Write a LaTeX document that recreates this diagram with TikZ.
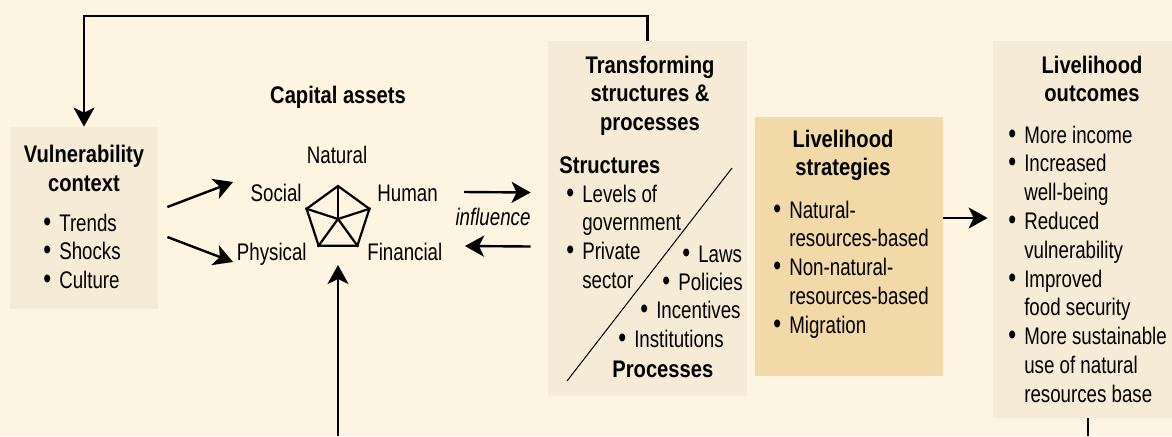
\documentclass[tikz,border=0pt]{standalone}
\usepackage{fontspec}
\setmainfont{Liberation Sans}[FakeStretch=0.78, BoldFeatures={FakeStretch=0.84}]
\usepackage{xcolor}
\definecolor{paper}{HTML}{FDF5E1}
\definecolor{panel}{HTML}{F6EBD6}
\definecolor{stratfill}{HTML}{F2D9A8}
\usetikzlibrary{shapes.geometric, arrows.meta, positioning, calc}

\newcommand{\bulitem}{\scalebox{1.2}{\textbullet}\hspace{4pt}}
\newcommand{\bulpad}{\hphantom{\scalebox{1.2}{\textbullet}\hspace{4pt}}}

\begin{document}
\begin{tikzpicture}[x=0.5pt, y=-0.5pt,
  every node/.style={font=\fontsize{12}{14.4}\selectfont, inner sep=0pt},
  panelbox/.style={fill=panel, draw=none},
  boxtitle/.style={font=\fontsize{12}{14.4}\selectfont\bfseries, align=center, anchor=base},
  itemlist/.style={align=left, anchor=base west},
  flow/.style={line width=1.2pt, -{Stealth[length=9.5pt, width=10.5pt, inset=2.5pt]}}]

  \fill[paper] (0,0) rectangle (1172,436);
  \useasboundingbox (0,0) rectangle (1172,436);

  % panels
  \node[panelbox, minimum width=74pt, minimum height=91pt] (vuln) at (84,218) {};
  \node[panelbox, minimum width=99.5pt, minimum height=177.5pt] (trans) at (647.5,218.5) {};
  \node[fill=stratfill, minimum width=94pt, minimum height=129.5pt] (strat) at (849,246.5) {};
  \node[panelbox, minimum width=95pt, minimum height=188.5pt] (outc) at (1088,229.5) {};

  % vulnerability context (multi-line nodes sit on their last baseline)
  \node[boxtitle] (vulntitle) at (84,191) {Vulnerability\\context};
  \node[itemlist] (vulnlist) at (43,288.6) {\bulitem Trends\\\bulitem Shocks\\\bulitem Culture};

  % capital assets
  \node[boxtitle] (captitle) at (338,103) {Capital assets};
  \node[regular polygon, regular polygon sides=5, minimum size=33pt,
        draw, line width=1.1pt] (pent) at (338,219) {};
  \foreach \c in {1,...,5}
    \draw[line width=1.1pt] (pent.center) -- (pent.corner \c);
  \node[anchor=base] (natural) at (337,163) {Natural};
  \node[anchor=base east] (social) at (302,201) {Social};
  \node[anchor=base west] (human) at (377,201) {Human};
  \node[anchor=base east] (physical) at (307,260) {Physical};
  \node[anchor=base west] (financial) at (367,260) {Financial};

  \draw[flow] ([shift={(4.5pt,5.5pt)}]vuln.east) -- ([shift={(-52.5pt,18.5pt)}]pent.center);
  \draw[flow] ([shift={(4.5pt,-9.5pt)}]vuln.east) -- ([shift={(-52.5pt,-21.5pt)}]pent.center);

  % influence
  \node[anchor=base, font=\fontsize{12}{14.4}\selectfont\itshape] (infl) at (493,225) {influence};
  \draw[flow] ([shift={(63pt,13.5pt)}]pent.center) -- ([shift={(-8.5pt,13pt)}]trans.west);
  \draw[flow] ([shift={(-8.5pt,-14pt)}]trans.west) -- ([shift={(63.5pt,-13.5pt)}]pent.center);

  % transforming structures & processes
  \node[boxtitle] (transtitle) at (650,130.6) {Transforming\\structures \&\\processes};
  \node[anchor=base west, font=\fontsize{12}{14.4}\selectfont\bfseries] (structs) at (559,173) {Structures};
  \node[itemlist] (structlist) at (566,288.4)
    {\bulitem Levels of\\\bulpad government\\\bulitem Private\\\bulpad sector};
  \draw[line width=0.5pt] (732,168) -- (567,381);
  \node[anchor=base west] (laws) at (682,262) {\bulitem Laws};
  \node[anchor=base west] (policies) at (662,290) {\bulitem Policies};
  \node[anchor=base west] (incent) at (640,318) {\bulitem Incentives};
  \node[anchor=base west] (instit) at (618,347) {\bulitem Institutions};
  \node[anchor=base west, font=\fontsize{12}{14.4}\selectfont\bfseries] (procs) at (612,377) {Processes};

  % livelihood strategies
  \node[boxtitle] (strattitle) at (843,175.8) {Livelihood\\strategies};
  \node[itemlist] (stratlist) at (773,333.2)
    {\bulitem Natural-\\\bulpad resources-based\\\bulitem Non-natural-\\\bulpad resources-based\\\bulitem Migration};

  % livelihood outcomes
  \node[boxtitle] (outctitle) at (1092,101.8) {Livelihood\\outcomes};
  \node[itemlist] (outclist) at (1008,402.2)
    {\bulitem More income\\\bulitem Increased\\\bulpad well-being\\\bulitem Reduced\\\bulpad vulnerability\\
     \bulitem Improved\\\bulpad food security\\\bulitem More sustainable\\\bulpad use of natural\\\bulpad resources base};

  % connectors
  \coordinate (topbend) at (84,16);
  \draw[flow] (trans.north) |- (topbend) -- (vuln.north);
  \draw[flow] ([yshift=14.25pt]strat.east) -- ([shift={(-2.5pt,5.75pt)}]outc.west);
  \coordinate (capin) at (338,436);
  \draw[flow] (capin) -- ([yshift=-23pt]pent.center);
  \coordinate (outbot) at (1088,436);
  \draw[line width=1.2pt] (outc.south) -- (outbot);
\end{tikzpicture}
\end{document}
